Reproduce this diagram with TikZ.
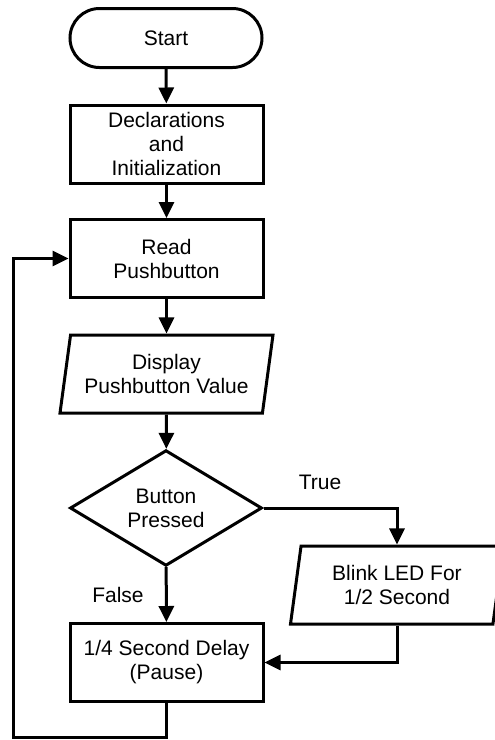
\documentclass[tikz,border=0pt]{standalone}
\usepackage{fontspec}
\setmainfont{Liberation Sans}
\usetikzlibrary{arrows.meta,shapes.geometric,shapes.misc}
\begin{document}
\begin{tikzpicture}[>={Triangle[length=16pt,width=15pt]},x=1pt,y=-1pt,line width=3pt,
		every node/.style={font=\fontsize{21}{24}\selectfont,align=center,inner sep=0pt},
		term/.style={draw,rounded rectangle,minimum width=192pt,minimum height=59pt},
		proc/.style={draw,rectangle,minimum width=193pt,minimum height=78pt},
		io/.style={draw,trapezium,trapezium left angle=75,trapezium right angle=105,trapezium stretches body,minimum width=213pt,minimum height=78pt},
		decis/.style={draw,diamond,minimum width=192pt,minimum height=113pt}]
		\useasboundingbox (0,0) rectangle (495,740);
		\node[term] (start) at (166,38) {Start};
		\node[proc] (decl) at (166.5,144) {Declarations\\and\\Initialization};
		\node[proc] (read) at (166.5,258.5) {Read\\Pushbutton};
		\node[io] (disp) at (166.5,374) {Display\\Pushbutton Value};
		\node[decis] (press) at (166,508) {Button\\Pressed};
		\node[io] (blink) at (397,585) {Blink LED For\\1/2 Second};
		\node[proc] (delay) at (166.5,662.5) {1/4 Second Delay\\(Pause)};
		\node (true) at (320,482) {True};
		\node (false) at (118,595) {False};
		\coordinate (loop) at (13,737);
		\draw[->] (start) -- (decl);
		\draw[->] (decl) -- (read);
		\draw[->] (read) -- (disp.north -| disp.center);
		\draw[->] (disp.south -| disp.center) -- (press);
		\draw[->] (press.east) -| (blink.north -| blink.center);
		\draw[->] (press) -- (delay);
		\draw[->] (blink.south -| blink.center) |- (delay.east);
		\draw[->] (delay.south) |- (loop) |- (read.west);
		\end{tikzpicture}
\end{document}
